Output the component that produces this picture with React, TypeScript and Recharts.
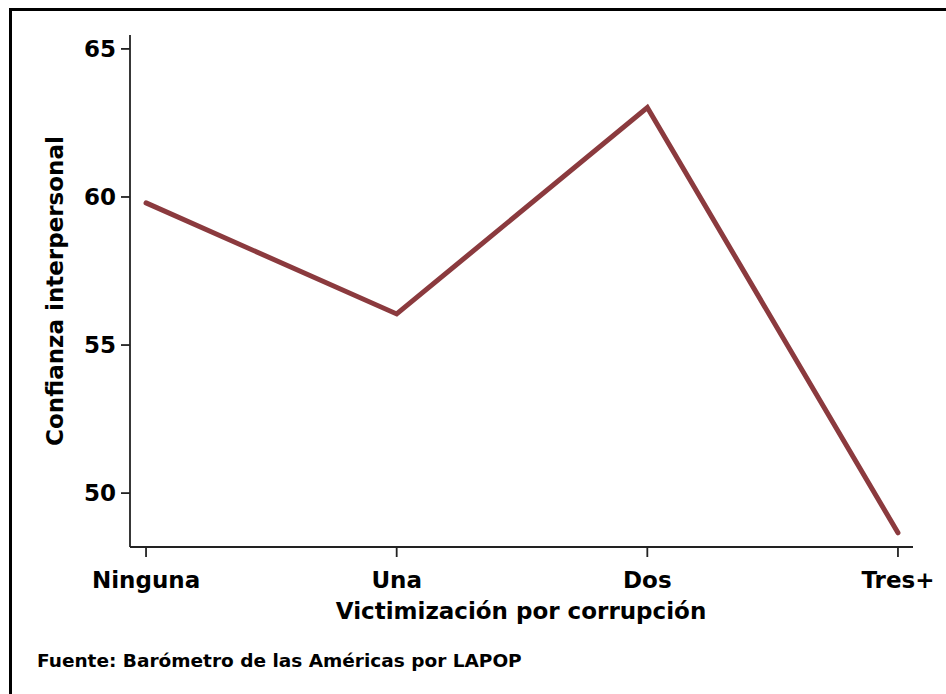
import React from 'react';
import { LineChart, Line, XAxis, YAxis } from 'recharts';

const categories = ['Ninguna', 'Una', 'Dos', 'Tres+'];
const confianza = [59.8, 56.05, 63.02, 48.66];
const yTicks = [50, 55, 60, 65];

const data = categories.map((c, i) => ({ idx: i, name: c, value: confianza[i] }));

const FONT = '"DejaVu Sans", Arial, sans-serif';

export default function App() {
  const tickStyle = { fontSize: 23, fontWeight: 700, fill: '#000', fontFamily: FONT };

  return (
    <div style={{ position: 'absolute', left: 0, top: 0, width: 946, height: 694, background: '#fff', overflow: 'hidden', fontFamily: FONT }}>
      {/* marco recortado: solo arriba e izquierda */}
      <div style={{ position: 'absolute', left: 9, top: 8, width: 946, height: 694, borderTop: '3px solid #000', borderLeft: '3px solid #000' }} />

      <LineChart
        width={946}
        height={694}
        data={data}
        margin={{ top: 35, right: 33, left: 60, bottom: 117 }}
        style={{ position: 'absolute', left: 0, top: 0 }}
      >
        <XAxis
          dataKey="idx"
          type="number"
          domain={[-0.064, 3.06]}
          ticks={[0, 1, 2, 3]}
          tickFormatter={(v: number) => categories[v]}
          allowDataOverflow
          height={30}
          tick={tickStyle}
          tickSize={10}
          tickMargin={15}
          stroke="#222"
          strokeWidth={1.8}
          tickLine={{ stroke: '#222', strokeWidth: 1.8 }}
        />
        <YAxis
          domain={[48.18, 65.47]}
          ticks={yTicks}
          allowDataOverflow
          width={70}
          tick={tickStyle}
          tickSize={9}
          tickMargin={5}
          stroke="#222"
          strokeWidth={1.8}
          tickLine={{ stroke: '#222', strokeWidth: 1.8 }}
        />
        <Line
          type="linear"
          dataKey="value"
          stroke="#8B3A3E"
          strokeWidth={5}
          strokeLinecap="round"
          strokeLinejoin="miter"
          dot={false}
          isAnimationActive={false}
        />
      </LineChart>

      <div style={{ position: 'absolute', left: 521, top: 611, transform: 'translate(-50%, -50%)', fontSize: 23, fontWeight: 700, whiteSpace: 'nowrap' }}>
        Victimización por corrupción
      </div>
      <div style={{ position: 'absolute', left: 55, top: 291, transform: 'translate(-50%, -50%) rotate(-90deg)', fontSize: 23, fontWeight: 700, whiteSpace: 'nowrap' }}>
        Confianza interpersonal
      </div>
      <div style={{ position: 'absolute', left: 37, top: 660, transform: 'translateY(-50%)', fontSize: 18.5, fontWeight: 700, whiteSpace: 'nowrap' }}>
        Fuente: Barómetro de las Américas por LAPOP
      </div>
    </div>
  );
}
